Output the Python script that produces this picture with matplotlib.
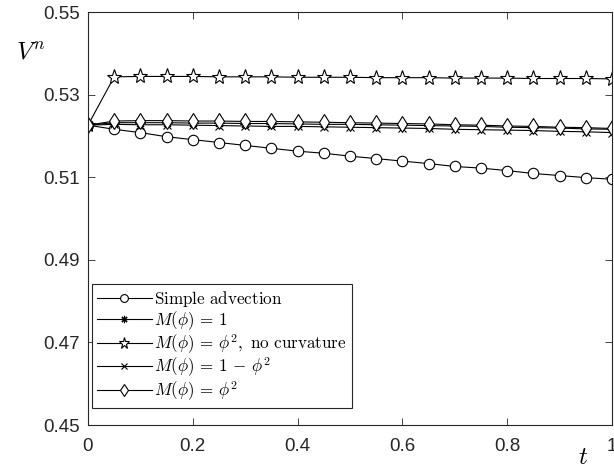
import matplotlib
matplotlib.use("Agg")
import matplotlib.pyplot as plt
import numpy as np

plt.rcParams['mathtext.fontset'] = 'cm'
plt.rcParams['font.family'] = ['Liberation Sans', 'DejaVu Sans']

# time samples
t = [0.00, 0.05, 0.10, 0.15, 0.20, 0.25, 0.30, 0.35, 0.40, 0.45, 0.50,
     0.55, 0.60, 0.65, 0.70, 0.75, 0.80, 0.85, 0.90, 0.95, 1.00]

# volume V^n for each model
v_simple = [0.5226, 0.5216, 0.5208, 0.5198, 0.5191, 0.5184, 0.5177, 0.5170,
            0.5163, 0.5158, 0.5151, 0.5145, 0.5139, 0.5133, 0.5126, 0.5122,
            0.5116, 0.5109, 0.5104, 0.5099, 0.5095]
v_m_one = [0.5226, 0.5232, 0.5232, 0.5232, 0.5231, 0.5231, 0.5230, 0.5230,
           0.5229, 0.5228, 0.5228, 0.5227, 0.5226, 0.5225, 0.5224, 0.5223,
           0.5221, 0.5220, 0.5219, 0.5217, 0.5216]
v_phi2_nocurv = [0.5226, 0.5343, 0.5344, 0.5344, 0.5344, 0.5343, 0.5343,
                 0.5343, 0.5342, 0.5342, 0.5342, 0.5341, 0.5341, 0.5341,
                 0.5340, 0.5340, 0.5340, 0.5339, 0.5339, 0.5339, 0.5338]
v_one_minus_phi2 = [0.5226, 0.5228, 0.5227, 0.5227, 0.5226, 0.5225, 0.5224,
                    0.5223, 0.5223, 0.5222, 0.5221, 0.5220, 0.5219, 0.5218,
                    0.5216, 0.5215, 0.5214, 0.5213, 0.5211, 0.5210, 0.5208]
v_phi2 = [0.5226, 0.5236, 0.5237, 0.5237, 0.5236, 0.5236, 0.5235, 0.5235,
          0.5234, 0.5233, 0.5232, 0.5231, 0.5230, 0.5229, 0.5227, 0.5226,
          0.5224, 0.5223, 0.5221, 0.5220, 0.5218]

labels = [r'$\mathrm{Simple\ advection}$',
          r'$M(\phi)\,=\,1$',
          r'$M(\phi)\,=\,\phi^2,\ \mathrm{no\ curvature}$',
          r'$M(\phi)\,=\,1\,-\,\phi^2$',
          r'$M(\phi)\,=\,\phi^2$']

xticks = [0, 0.2, 0.4, 0.6, 0.8, 1]
xticklabels = ['0', '0.2', '0.4', '0.6', '0.8', '1']
yticks = [0.45, 0.47, 0.49, 0.51, 0.53, 0.55]
yticklabels = ['0.45', '0.47', '0.49', '0.51', '0.53', '0.55']

fig = plt.figure(figsize=(6.14, 4.69), dpi=100)
ax = fig.add_axes([0.1433, 0.0938, 0.8534, 0.8806])

common = dict(color='black', lw=0.8, markerfacecolor='white',
              markeredgecolor='black', markeredgewidth=0.8)
ax.plot(t, v_simple, marker='o', markersize=7.5, label=labels[0], **common)
ax.plot(t, v_m_one, marker=(8, 2, 0), markersize=7, label=labels[1], **common)
ax.plot(t, v_phi2_nocurv, marker='*', markersize=11, label=labels[2], **common)
ax.plot(t, v_one_minus_phi2, marker='x', markersize=6, label=labels[3], **common)
ax.plot(t, v_phi2, marker='d', markersize=8, label=labels[4], **common)

ax.set_xlim(0, 1)
ax.set_ylim(0.45, 0.55)
ax.set_xticks(xticks)
ax.set_xticklabels(xticklabels)
ax.set_yticks(yticks)
ax.set_yticklabels(yticklabels)
ax.tick_params(direction='in', length=5, width=0.6, top=True, right=True,
               labelsize=13.5, colors='#262626')
ax.tick_params(axis='x', pad=9)
ax.tick_params(axis='y', pad=6)
for s in ax.spines.values():
    s.set_color('#262626')
    s.set_linewidth(0.8)

ax.text(-0.11, 0.903, r'$V^n$', transform=ax.transAxes, fontsize=18,
        ha='center', va='center')
ax.text(0.945, -0.078, r'$t$', transform=ax.transAxes, fontsize=18,
        ha='center', va='center')

leg = ax.legend(loc='lower left', bbox_to_anchor=(0.0076, 0.041), fontsize=12.3,
                fancybox=False, framealpha=1, edgecolor='#262626',
                handlelength=3.2, handletextpad=0.15, labelspacing=0.0,
                borderpad=0.3, borderaxespad=0.0)
leg.get_frame().set_linewidth(0.8)
# smaller markers inside the legend
for h in leg.legend_handles:
    h.set_markersize(h.get_markersize() * 0.75)

fig.savefig('out.png', dpi=100)
